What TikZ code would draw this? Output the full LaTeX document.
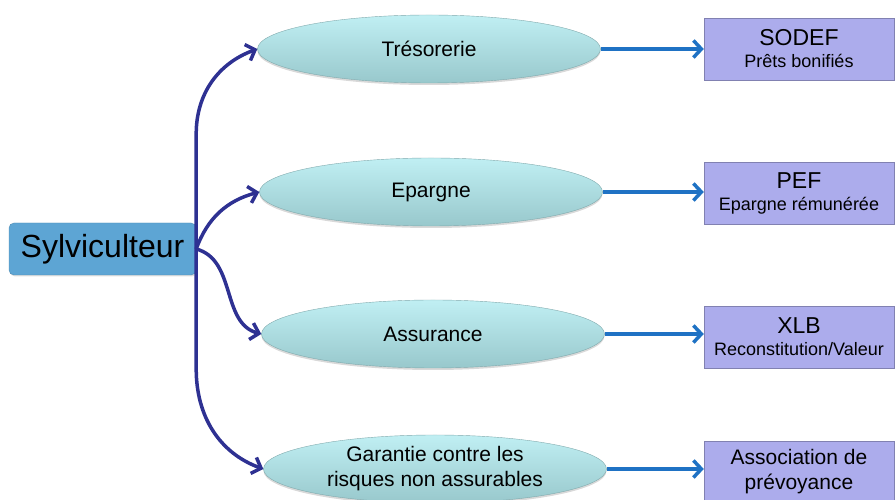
\documentclass[tikz,border=0pt]{standalone}
\usepackage{fontspec}
\setmainfont{Liberation Sans}
\usepackage{tikz}
\usetikzlibrary{arrows.meta, shapes.geometric, shadows}
\definecolor{rootblue}{HTML}{5DA5D4}
\definecolor{braceblue}{HTML}{2E3192}
\definecolor{arrowblue}{HTML}{1F72C4}
\definecolor{leaftop}{HTML}{C0EFF3}
\definecolor{leafbot}{HTML}{98C8CC}
\definecolor{boxlila}{HTML}{ACACEC}

\begin{document}
\begin{tikzpicture}[x=1pt,y=1pt]
			\tikzstyle{every node} = [font = \fontsize{21}{25}\selectfont, align=center, text=black]
			\tikzstyle{racine} = [draw=rootblue!85!black, fill=rootblue, rounded corners=5pt, minimum width=187pt, minimum height=52pt, inner sep=0pt, font=\fontsize{32}{36}\selectfont, drop shadow={opacity=0.25, shadow xshift=1pt, shadow yshift=-1.5pt}]
			\tikzstyle{feuille} = [ellipse, draw=leafbot!85!black, line width=0.4pt, top color=leaftop, bottom color=leafbot, minimum width=343pt, minimum height=68pt, inner sep=0pt, drop shadow={opacity=0.3, shadow xshift=0pt, shadow yshift=-2pt}]
			\tikzstyle{produit} = [draw=boxlila!75!black, fill=boxlila, minimum width=190pt, minimum height=62pt, inner sep=0pt, drop shadow={opacity=0.25, shadow xshift=1pt, shadow yshift=-1.5pt}]
			\tikzstyle{accolade} = [draw=braceblue, line width=3.5pt, -{Straight Barb[length=8pt,width=17pt]}]
			\tikzstyle{fleche} = [draw=arrowblue, line width=3.5pt, -{Straight Barb[length=8pt,width=17pt]}]
				\useasboundingbox (0,0) rectangle (895,500);
				% owner
				\node[racine] (sylv) at (102.5,251) {Sylviculteur};
				% needs
				\node[feuille] (tres) at (429,451) {Trésorerie};
				\node[feuille] (epar) at (431,308) {Epargne};
				\node[feuille] (assu) at (433,166) {Assurance};
				\node[feuille] (gara) at (435,31) {Garantie contre les\\risques non assurables};
				% products
				\node[produit] (sodef) at (799,451) {{\fontsize{23}{25}\selectfont SODEF}\\[-3pt]{\fontsize{18}{20}\selectfont Prêts bonifiés}};
				\node[produit] (pef) at (799,307) {{\fontsize{23}{25}\selectfont PEF}\\[-3pt]{\fontsize{18}{20}\selectfont Epargne rémunérée}};
				\node[produit] (xlb) at (799,163) {{\fontsize{23}{25}\selectfont XLB}\\[-3pt]{\fontsize{18}{20}\selectfont Reconstitution/Valeur}};
				\node[produit] (asso) at (799,28) {Association de\\prévoyance};
				% brace
				\path[accolade] (sylv.east) -- ++(0,115) to[out=90,in=200] (tres.west);
				\path[accolade] (sylv.east) to[out=70,in=195] (epar.west);
				\path[accolade] (sylv.east) to[out=-15,in=165] (assu.west);
				\path[accolade] (sylv.east) -- ++(0,-120) to[out=-90,in=160] (gara.west);
				% right arrows
				\path[fleche] (tres.east) -- (tres.east -| sodef.west);
				\path[fleche] (epar.east) -- (epar.east -| pef.west);
				\path[fleche] (assu.east) -- (assu.east -| xlb.west);
				\path[fleche] (gara.east) -- (gara.east -| asso.west);
\end{tikzpicture}
\end{document}
